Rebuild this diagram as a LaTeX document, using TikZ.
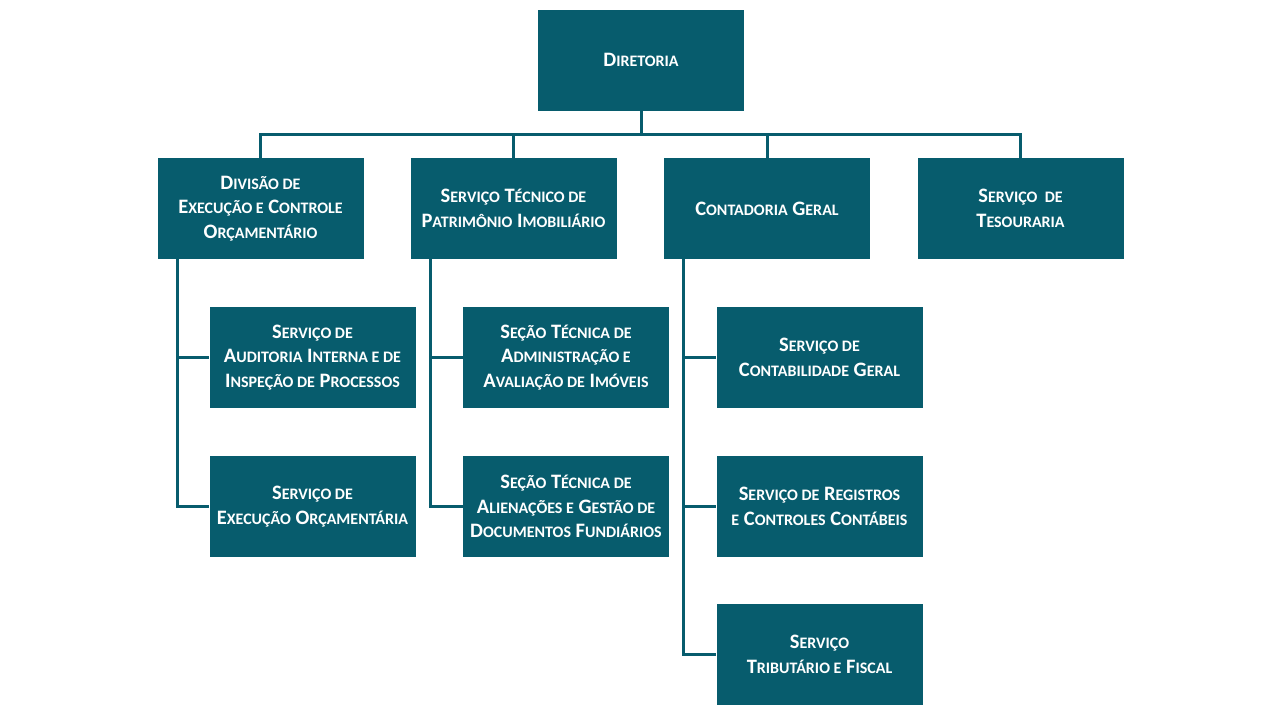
\documentclass[tikz,border=0pt]{standalone}
\usepackage{fontspec}
\setmainfont{Carlito}
\definecolor{teal1}{HTML}{075C6D}
\newcommand\sm[1]{{\fontsize{16}{24.5}\selectfont #1}}
\begin{document}
\begin{tikzpicture}[x=1pt,y=-1pt,
  box/.style={fill=teal1,draw=none,minimum width=206pt,minimum height=101pt,inner sep=0pt,
    text=white,align=center,font=\fontsize{20.5}{24.5}\selectfont\bfseries},
  conn/.style={draw=teal1,line width=3pt}]
\useasboundingbox[fill=white] (0,0) rectangle (1280,720);
\node[box] (dir) at (641,60) {D\sm{IRETORIA}};
\node[box] (b1) at (260.5,208.5) {D\sm{IVISÃO DE}\\E\sm{XECUÇÃO E} C\sm{ONTROLE}\\O\sm{RÇAMENTÁRIO}};
\node[box] (b2) at (513.5,208.5) {S\sm{ERVIÇO} T\sm{ÉCNICO DE}\\P\sm{ATRIMÔNIO} I\sm{MOBILIÁRIO}};
\node[box] (b3) at (767,208.5) {C\sm{ONTADORIA} G\sm{ERAL}};
\node[box] (b4) at (1020.5,208.5) {S\sm{ERVIÇO\ \ DE}\\T\sm{ESOURARIA}};
\node[box] (c11) at (312.5,357.5) {S\sm{ERVIÇO DE}\\A\sm{UDITORIA} I\sm{NTERNA E DE}\\I\sm{NSPEÇÃO DE} P\sm{ROCESSOS}};
\node[box] (c12) at (312.5,506.5) {S\sm{ERVIÇO DE}\\E\sm{XECUÇÃO} O\sm{RÇAMENTÁRIA}};
\node[box] (c21) at (566,357.5) {S\sm{EÇÃO} T\sm{ÉCNICA DE}\\A\sm{DMINISTRAÇÃO E}\\A\sm{VALIAÇÃO DE} I\sm{MÓVEIS}};
\node[box] (c22) at (566,506.5) {S\sm{EÇÃO} T\sm{ÉCNICA DE}\\A\sm{LIENAÇÕES E} G\sm{ESTÃO DE}\\D\sm{OCUMENTOS} F\sm{UNDIÁRIOS}};
\node[box] (c31) at (819.5,357.5) {S\sm{ERVIÇO DE}\\C\sm{ONTABILIDADE} G\sm{ERAL}};
\node[box] (c32) at (819.5,506.5) {S\sm{ERVIÇO DE} R\sm{EGISTROS}\\\sm{E} C\sm{ONTROLES} C\sm{ONTÁBEIS}};
\node[box] (c33) at (819.5,654.5) {S\sm{ERVIÇO}\\T\sm{RIBUTÁRIO E} F\sm{ISCAL}};
% top bus
\coordinate (bus) at (641,134);
\draw[conn] (dir.south) -- (bus);
\draw[conn] (b1.north) -- (b1.north |- bus) -- (b4.north |- bus) -- (b4.north);
\draw[conn] (b2.north) -- (b2.north |- bus);
\draw[conn] (b3.north) -- (b3.north |- bus);
% spines
\coordinate (s1) at (177,259);
\coordinate (s2) at (430,259);
\coordinate (s3) at (683,259);
\draw[conn] (s1) -- (s1 |- c12.west) -- (c12.west);
\draw[conn] (s1 |- c11.west) -- (c11.west);
\draw[conn] (s2) -- (s2 |- c22.west) -- (c22.west);
\draw[conn] (s2 |- c21.west) -- (c21.west);
\draw[conn] (s3) -- (s3 |- c33.west) -- (c33.west);
\draw[conn] (s3 |- c31.west) -- (c31.west);
\draw[conn] (s3 |- c32.west) -- (c32.west);
\end{tikzpicture}
\end{document}
